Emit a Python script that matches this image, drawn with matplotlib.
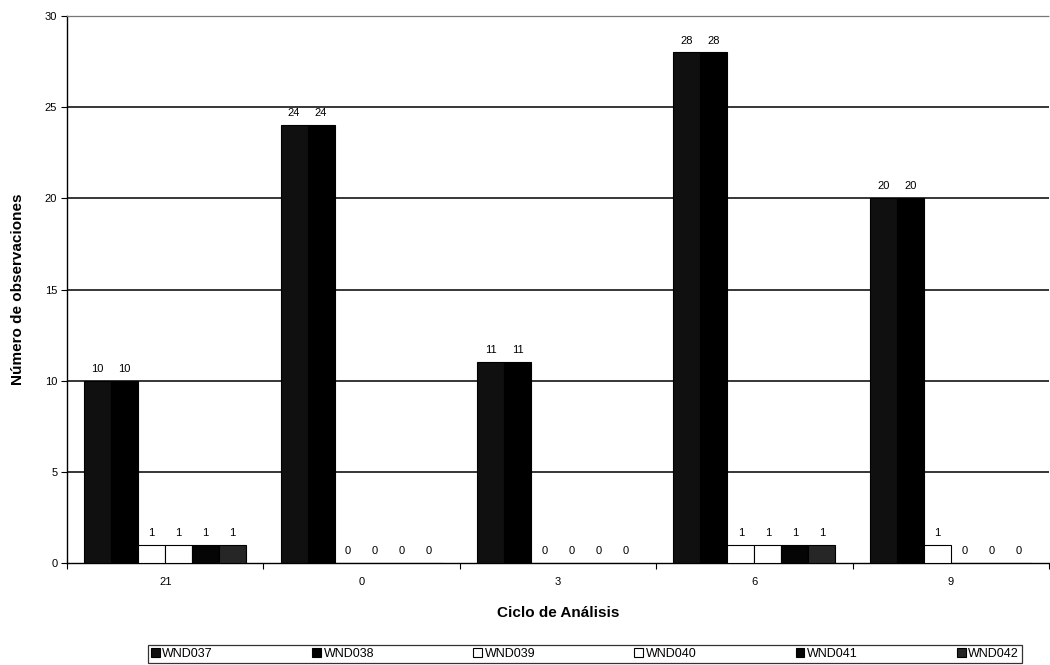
import matplotlib
matplotlib.use("Agg")
import matplotlib.pyplot as plt
import numpy as np

plt.rcParams['font.family'] = ['Liberation Sans', 'DejaVu Sans']

categories = ["21", "0", "3", "6", "9"]
series_names = ["WND037", "WND038", "WND039", "WND040", "WND041", "WND042"]
wnd037 = [10, 24, 11, 28, 20]
wnd038 = [10, 24, 11, 28, 20]
wnd039 = [1, 0, 0, 1, 1]
wnd040 = [1, 0, 0, 1, 0]
wnd041 = [1, 0, 0, 1, 0]
wnd042 = [1, 0, 0, 1, 0]
series_values = [wnd037, wnd038, wnd039, wnd040, wnd041, wnd042]
colors = ["#101010", "#000000", "#ffffff", "#ffffff", "#050505", "#262626"]

fig = plt.figure(figsize=(10.5, 6.65), dpi=100)
ax = fig.add_axes([67 / 1050, 1 - 563 / 665, (1049 - 67) / 1050, (563 - 16) / 665])

x = np.arange(len(categories))
bw = 0.1375
offsets = (np.arange(len(series_names)) - (len(series_names) - 1) / 2) * bw

handles = []
for i, (name, vals, col) in enumerate(zip(series_names, series_values, colors)):
    bars = ax.bar(x + offsets[i], vals, width=bw, color=col, edgecolor="black",
                  linewidth=0.8, label=name, zorder=3)
    handles.append(bars)
    for xi, v in zip(x + offsets[i], vals):
        ax.annotate(str(v), (xi, v), xytext=(0, 5), textcoords="offset points",
                    ha="center", va="bottom", fontsize=8, zorder=4)

ax.set_xlim(-0.5, len(categories) - 0.5)
ax.set_ylim(0, 30)
ax.set_yticks(np.arange(0, 31, 5))
ax.tick_params(axis="y", labelsize=8, length=4, width=0.8, direction="out", pad=3)

ax.set_xticks(x)
ax.set_xticklabels(categories, fontsize=8)
ax.tick_params(axis="x", which="major", length=0, pad=10)
ax.set_xticks(np.arange(-0.5, len(categories), 1), minor=True)
ax.tick_params(axis="x", which="minor", length=4, width=0.8, direction="out")

for yv in range(5, 30, 5):
    ax.axhline(yv, color="black", linewidth=1.1, zorder=1)

ax.spines["right"].set_visible(False)
ax.spines["top"].set_color("#777777")
ax.spines["top"].set_linestyle((0, (2, 1)))
ax.spines["top"].set_linewidth(0.9)
ax.spines["left"].set_linewidth(1.0)
ax.spines["bottom"].set_linewidth(1.0)

ax.set_ylabel("Número de observaciones", fontsize=11, fontweight="bold", labelpad=14)
ax.set_xlabel("Ciclo de Análisis", fontsize=11, fontweight="bold", labelpad=14)

leg = fig.legend(handles=handles, labels=series_names, loc="lower left",
                 bbox_to_anchor=(148 / 1050, 2 / 665, (1022 - 148) / 1050, 21 / 665),
                 mode="expand", ncol=6, fontsize=9, frameon=True, fancybox=False,
                 handlelength=0.7, handleheight=0.7, handletextpad=0.2,
                 borderpad=0.25, borderaxespad=0)
leg.get_frame().set_edgecolor("black")
leg.get_frame().set_linewidth(0.9)

fig.savefig("out.png", dpi=100)
